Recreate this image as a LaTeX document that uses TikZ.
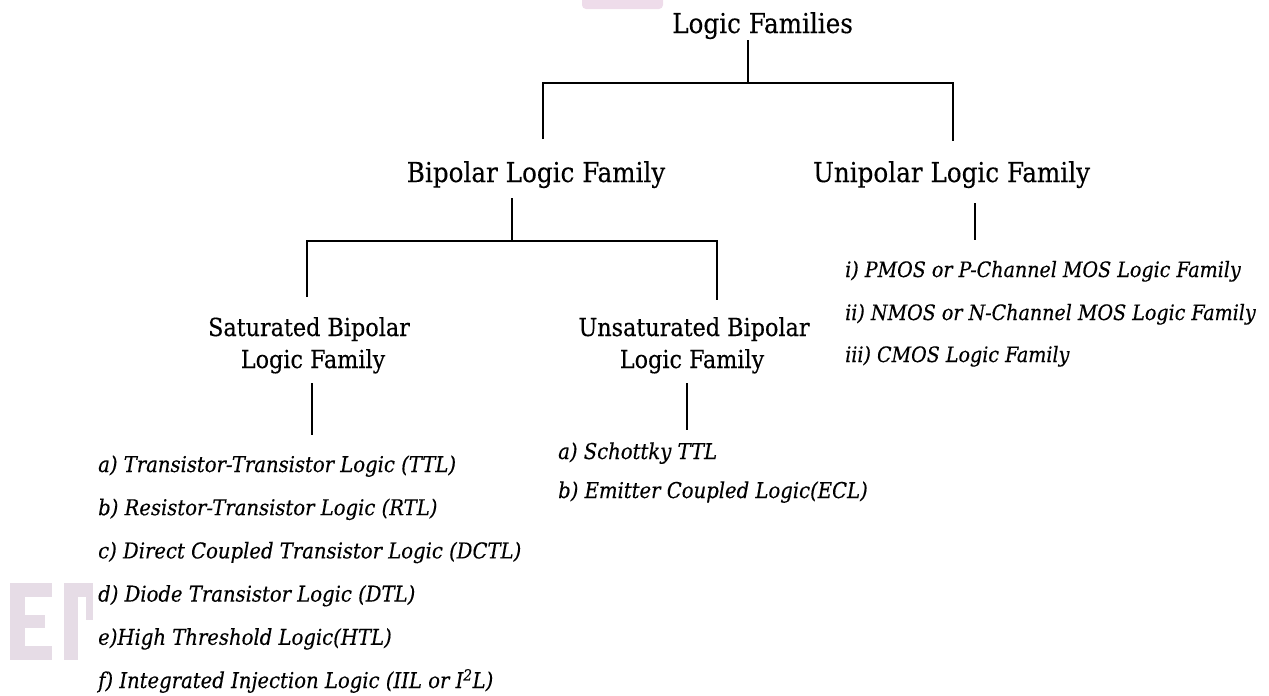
\documentclass[tikz,border=0pt]{standalone}
\usepackage{fontspec}
\setmainfont{DejaVu Serif Condensed}[FakeBold=0.3]
\definecolor{wmpink}{RGB}{238,220,234}
\definecolor{wmgray}{RGB}{230,220,230}
\begin{document}
\begin{tikzpicture}[x=1pt,y=-1pt,
  head/.style={font=\fontsize{27.4}{32}\selectfont, inner sep=0pt, anchor=base},
  subhead/.style={font=\fontsize{24.8}{30}\selectfont, inner sep=0pt, anchor=base},
  item/.style={font=\itshape\fontsize{21.8}{26}\selectfont, inner sep=0pt, anchor=base west},
  ritem/.style={item, font=\itshape\fontsize{21.2}{26}\selectfont},
  conn/.style={line width=1.5pt, black}]
\useasboundingbox (0,0) rectangle (1269,696);
% faint watermark remnants
\fill[wmpink, rounded corners=4pt] (582,-4) rectangle (663,9);
\fill[wmgray] (10,583) rectangle (25,660);
\fill[wmgray] (10,583) rectangle (52,597);
\fill[wmgray] (10,615) rectangle (45,628);
\fill[wmgray] (10,646) rectangle (52,660);
\fill[wmgray] (64,583) rectangle (78,660);
\fill[wmgray] (64,583) rectangle (93,597);
\fill[wmgray] (86,583) rectangle (93,620);
% headings
\node[head, anchor=base west] (root) at (672,33) {Logic Families};
\node[head] (bip) at (536,182) {Bipolar Logic Family};
\node[head] (uni) at (951.5,182) {Unipolar Logic Family};
\node[subhead] (sat) at (309,336) {Saturated Bipolar};
\node[subhead] (satb) at (313,368) {Logic Family};
\node[subhead] (uns) at (694,336) {Unsaturated Bipolar};
\node[subhead] (unsb) at (692,368) {Logic Family};
% items
\node[item] (s1) at (98,472.0) {a) Transistor-Transistor Logic (TTL)};
\node[item] (s2) at (98,515.2) {b) Resistor-Transistor Logic (RTL)};
\node[item] (s3) at (98,558.4) {c) Direct Coupled Transistor Logic (DCTL)};
\node[item] (s4) at (98,601.6) {d) Diode Transistor Logic (DTL)};
\node[item] (s5) at (98,644.8) {e)High Threshold Logic(HTL)};
\node[item] (s6) at (98,688.0) {f) Integrated Injection Logic (IIL or I\textsuperscript{2}L)};
\node[item] (u1) at (558,459) {a) Schottky TTL};
\node[item] (u2) at (558,498) {b) Emitter Coupled Logic(ECL)};
\node[ritem] (m1) at (845,277) {i) PMOS or P-Channel MOS Logic Family};
\node[ritem] (m2) at (845,320) {ii) NMOS or N-Channel MOS Logic Family};
\node[ritem] (m3) at (845,362) {iii) CMOS Logic Family};
% connector points
\coordinate (rt) at (748,40);
\coordinate (rj) at (748,83);
\coordinate (rl) at (543,83);
\coordinate (rlb) at (543,139);
\coordinate (rr) at (953,83);
\coordinate (rrb) at (953,141);
\coordinate (bt) at (512,198);
\coordinate (bj) at (512,241);
\coordinate (bl) at (307,241);
\coordinate (blb) at (307,297);
\coordinate (br) at (717,241);
\coordinate (brb) at (717,300);
\coordinate (ut) at (975,203);
\coordinate (ub) at (975,240);
\coordinate (st) at (312,383);
\coordinate (sb) at (312,435);
\coordinate (nt) at (687,383);
\coordinate (nb) at (687,430);
% connectors
\draw[conn] (rt) -- (rj);
\draw[conn] (rlb) -- (rl) -- (rr) -- (rrb);
\draw[conn] (bt) -- (bj);
\draw[conn] (blb) -- (bl) -- (br) -- (brb);
\draw[conn] (ut) -- (ub);
\draw[conn] (st) -- (sb);
\draw[conn] (nt) -- (nb);
\end{tikzpicture}
\end{document}
